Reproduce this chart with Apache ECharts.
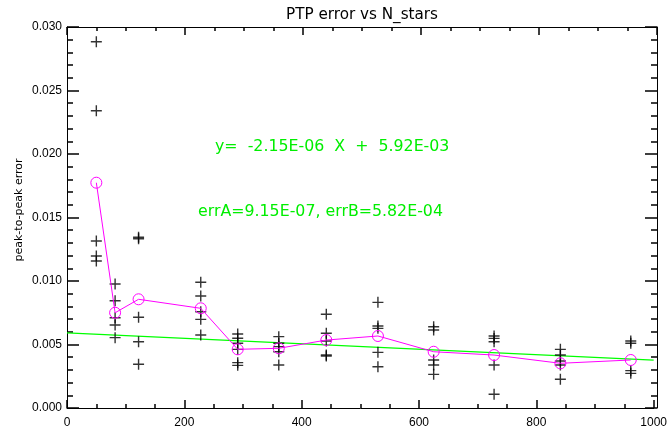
<!DOCTYPE html>
<html>
<head>
<meta charset="utf-8">
<script src="https://cdn.jsdelivr.net/npm/echarts@6/dist/echarts.min.js"></script>
<style>html,body{margin:0;padding:0;background:#fff;}#c{width:670px;height:432px;}</style>
</head>
<body>
<div id="c"></div>
<script>
const titleText = 'PTP error vs N_stars';
const yAxisName = 'peak-to-peak error';
const fitText = 'y=  -2.15E-06  X  +  5.92E-03';
const errText = 'errA=9.15E-07, errB=5.82E-04';

const nStars = [50, 82, 122, 228, 291, 361, 442, 530, 625, 728, 841, 961];
const ptpErrors = [
  [0.02884, 0.0234, 0.01315, 0.01197, 0.01157],
  [0.00976, 0.00845, 0.00711, 0.00654, 0.00554],
  [0.01344, 0.01333, 0.00714, 0.00522, 0.00344],
  [0.0099, 0.00882, 0.00758, 0.00698, 0.00575],
  [0.00583, 0.00549, 0.0051, 0.00462, 0.00357, 0.00336],
  [0.00562, 0.0051, 0.00483, 0.00443, 0.00339],
  [0.00738, 0.00588, 0.00528, 0.00417, 0.0041],
  [0.00832, 0.00646, 0.00627, 0.00438, 0.00325],
  [0.0064, 0.00614, 0.00378, 0.00339, 0.00265],
  [0.00567, 0.00548, 0.00522, 0.00339, 0.00108],
  [0.00462, 0.00417, 0.0037, 0.00339, 0.00226],
  [0.00528, 0.0051, 0.00294, 0.00273]
];
const meanErrors = [0.01774, 0.0075, 0.00856, 0.00785, 0.00462, 0.0047, 0.00535, 0.00567, 0.00443, 0.00417, 0.00352, 0.00378];
const fitX = [0, 1000];
const fitY = [0.00592, 0.00377];

const xTicks = [0, 200, 400, 600, 800, 1000];
const yTicks = [0.000, 0.005, 0.010, 0.015, 0.020, 0.025, 0.030];

const crossData = [];
nStars.forEach((n, i) => ptpErrors[i].forEach(v => crossData.push([n, v])));
const meanData = nStars.map((n, i) => [n, meanErrors[i]]);
const fitData = fitX.map((x, i) => [x, fitY[i]]);

const font = 'DejaVu Sans, sans-serif';
const labelFont = 'Liberation Sans, sans-serif';
function mkAxis(extra, len, split) {
  return Object.assign({
    type: 'value',
    axisLine: {show: true, onZero: false, lineStyle: {color: '#000', width: 1}},
    axisTick: {show: true, inside: true, length: len, lineStyle: {color: '#000', width: 1.5}},
    minorTick: {show: true, splitNumber: split, length: len / 2, lineStyle: {color: '#000', width: 1.5}},
    splitLine: {show: false}
  }, extra);
}
const gridBox = {left: 67, right: 13, top: 27, bottom: 24};

const chart = echarts.init(document.getElementById('c'));
chart.setOption({
  animation: false,
  title: {text: titleText, left: 357, top: 3, textAlign: 'center',
    textStyle: {fontFamily: font, fontSize: 15.2, fontWeight: 'normal', color: '#000'}},
  grid: [Object.assign({}, gridBox), Object.assign({}, gridBox)],
  xAxis: [
    mkAxis({gridIndex: 0, min: xTicks[0], max: xTicks[xTicks.length-1], interval: 200,
      axisLabel: {color: '#000', fontFamily: labelFont, fontSize: 12, margin: 9, formatter: v => String(v)}}, 8, 4),
    mkAxis({gridIndex: 1, position: 'top', min: xTicks[0], max: xTicks[xTicks.length-1], interval: 200,
      axisLabel: {show: false}}, 8, 4)
  ],
  yAxis: [
    mkAxis({gridIndex: 0, min: yTicks[0], max: yTicks[yTicks.length-1], interval: 0.005,
      axisLabel: {color: '#000', fontFamily: labelFont, fontSize: 12, margin: 5, formatter: v => v.toFixed(3)}}, 12, 5),
    mkAxis({gridIndex: 1, position: 'right', min: yTicks[0], max: yTicks[yTicks.length-1], interval: 0.005,
      axisLabel: {show: false}}, 12, 5)
  ],
  series: [
    {type: 'line', data: fitData, xAxisIndex: 0, yAxisIndex: 0, symbol: 'none',
      lineStyle: {color: '#00ff00', width: 1.2}, z: 2},
    {type: 'scatter', data: crossData, xAxisIndex: 0, yAxisIndex: 0,
      symbol: 'path://M0,5L10,5M5,0L5,10', symbolSize: 11,
      itemStyle: {color: 'rgba(0,0,0,0)', borderColor: '#000', borderWidth: 1.4}, z: 3},
    {type: 'line', data: meanData, xAxisIndex: 0, yAxisIndex: 0, symbol: 'circle', symbolSize: 11,
      lineStyle: {color: '#ff00ff', width: 1},
      itemStyle: {color: 'rgba(0,0,0,0)', borderColor: '#ff00ff', borderWidth: 1}, z: 4}
  ],
  graphic: [
    {type: 'text', x: 19, y: 210, rotation: Math.PI / 2,
      style: {text: yAxisName, fill: '#000', font: '11px ' + font, align: 'center', verticalAlign: 'middle'}},
    {type: 'text', left: 215, top: 139, style: {text: fitText, fill: '#00ee00', font: '15.8px ' + font}},
    {type: 'text', left: 198, top: 204, style: {text: errText, fill: '#00ee00', font: '15.8px ' + font}}
  ]
});
</script>
</body>
</html>
